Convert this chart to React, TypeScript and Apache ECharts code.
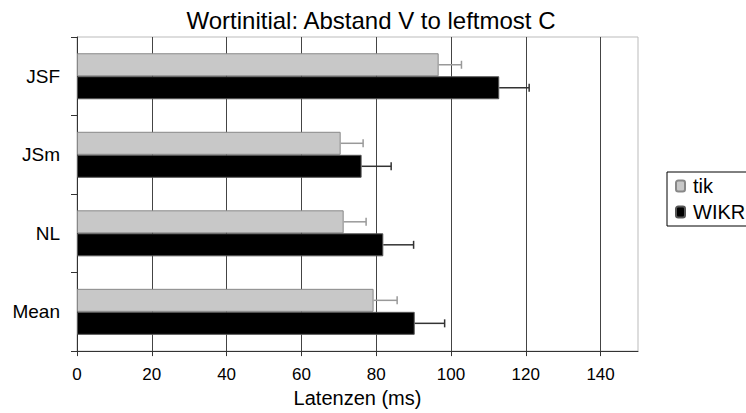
import React, { useEffect, useRef } from "react";
import * as echarts from "echarts";

const categories = ["JSF", "JSm", "NL", "Mean"];
const tikValues = [96.7, 70.5, 71.3, 79.3];
const tikErrors = [6.1, 6.0, 6.0, 6.3];
const wikrValues = [112.9, 76.1, 81.9, 90.3];
const wikrErrors = [8.0, 7.9, 8.1, 8.0];
const xTicks = [0, 20, 40, 60, 80, 100, 120, 140];

const FONT = "'Liberation Sans', Arial, sans-serif";
const BAR_W = 23;

function errorSeries(name: string, values: number[], errors: number[], offset: number, color: string) {
  return {
    type: "custom",
    name,
    silent: true,
    z: 5,
    data: values.map((v, i) => [i, v, v + errors[i]]),
    encode: { x: [1, 2], y: 0 },
    renderItem: (params: any, api: any) => {
      const cat = api.value(0);
      const start = api.coord([api.value(1), cat]);
      const end = api.coord([api.value(2), cat]);
      const y = start[1] + offset;
      return {
        type: "group",
        children: [
          { type: "line", shape: { x1: start[0], y1: y, x2: end[0], y2: y }, style: { stroke: color, lineWidth: 1.5 } },
          { type: "line", shape: { x1: end[0], y1: y - 4, x2: end[0], y2: y + 4 }, style: { stroke: color, lineWidth: 1.5 } },
        ],
      };
    },
  };
}

export default function App() {
  const ref = useRef<HTMLDivElement>(null);
  useEffect(() => {
    const chart = echarts.init(ref.current!, null, { renderer: "svg" });
    chart.setOption({
      animation: false,
      backgroundColor: "#fff",
      textStyle: { fontFamily: FONT },
      title: {
        text: "Wortinitial: Abstand V to leftmost C",
        left: 366,
        top: 3,
        textAlign: "center",
        textStyle: { fontFamily: FONT, fontSize: 24, fontWeight: "normal", color: "#000" },
      },
      legend: {
        data: ["tik", "WIKR"],
        orient: "vertical",
        left: 667,
        top: 172,
        padding: [4, 8, 4, 8],
        itemWidth: 9,
        itemHeight: 11,
        itemGap: 6,
        borderColor: "#000",
        borderWidth: 1,
        textStyle: { fontFamily: FONT, fontSize: 20, color: "#000", padding: [0, 0, 0, 3] },
      },
      grid: {
        left: 77,
        right: 108,
        top: 37,
        bottom: 56,
        show: true,
        borderColor: "#bbb",
        borderWidth: 1,
        backgroundColor: "transparent",
      },
      xAxis: {
        type: "value",
        min: 0,
        max: 150,
        interval: 20,
        name: "Latenzen (ms)",
        nameLocation: "middle",
        nameGap: 33,
        nameTextStyle: { fontFamily: FONT, fontSize: 20, color: "#000" },
        axisLine: { show: true, lineStyle: { color: "#333", width: 1 } },
        axisTick: { show: true, length: 5, lineStyle: { color: "#333" }, customValues: xTicks },
        axisLabel: { fontFamily: FONT, fontSize: 17, color: "#000", margin: 15, customValues: xTicks },
        splitLine: { show: true, lineStyle: { color: "#444", width: 1 } },
      },
      yAxis: {
        type: "category",
        data: categories,
        inverse: true,
        axisLine: { show: true, lineStyle: { color: "#333", width: 1 } },
        axisTick: { show: true, length: 6, lineStyle: { color: "#333" } },
        axisLabel: { fontFamily: FONT, fontSize: 19, color: "#000", margin: 17 },
        splitLine: { show: false },
      },
      series: [
        {
          type: "bar",
          name: "tik",
          data: tikValues,
          barWidth: BAR_W,
          barGap: "0%",
          itemStyle: { color: "#c8c8c8", borderColor: "#888", borderWidth: 1 },
        },
        {
          type: "bar",
          name: "WIKR",
          data: wikrValues,
          barWidth: BAR_W,
          barGap: "0%",
          itemStyle: { color: "#000", borderColor: "#555", borderWidth: 1 },
        },
        errorSeries("tikErr", tikValues, tikErrors, -BAR_W / 2, "#999"),
        errorSeries("wikrErr", wikrValues, wikrErrors, BAR_W / 2, "#333"),
      ],
    });
    return () => chart.dispose();
  }, []);
  return <div ref={ref} style={{ position: "fixed", left: 0, top: 0, width: 746, height: 413 }} />;
}
